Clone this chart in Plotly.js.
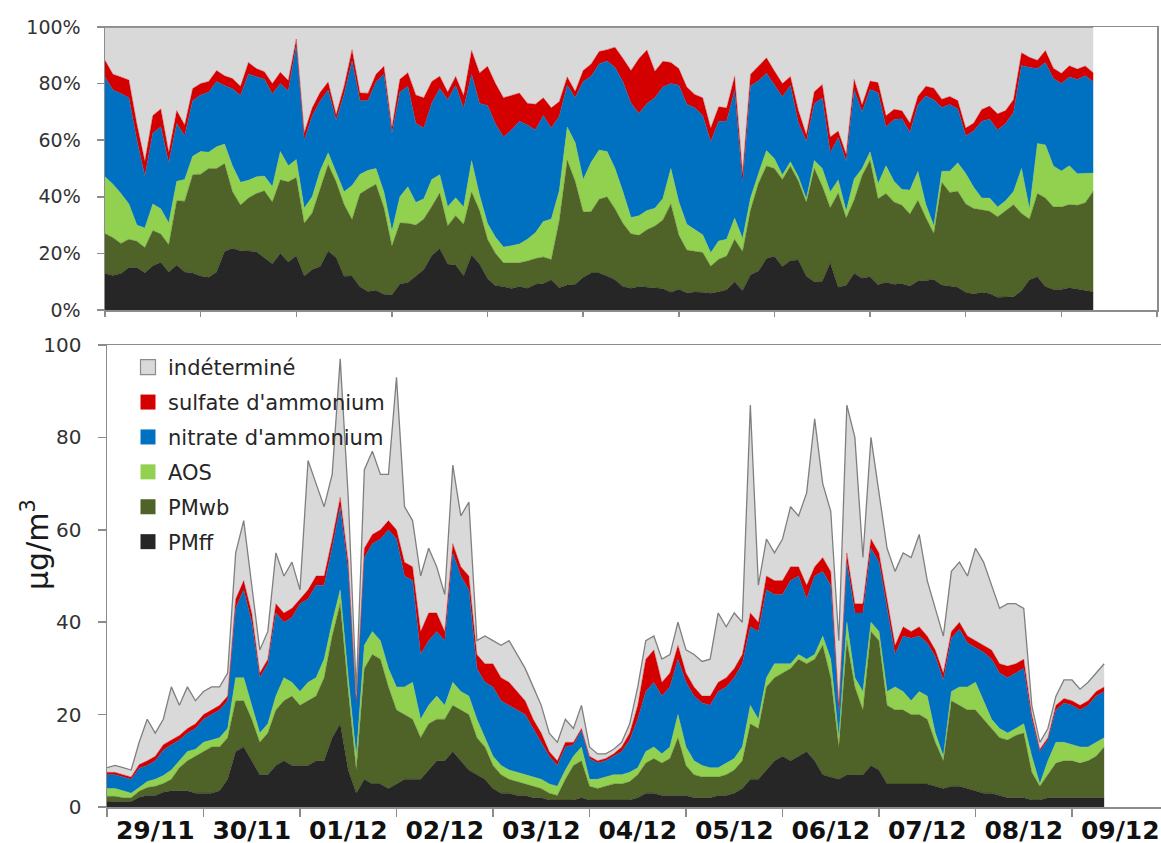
<!DOCTYPE html>
<html>
<head>
<meta charset="utf-8">
<script src="https://cdn.plot.ly/plotly-3.0.1.min.js"></script>
<style>
html, body { margin: 0; padding: 0; background: #ffffff; }
#chart { width: 1161px; height: 843px; }
</style>
</head>
<body>
<div id="chart"></div>
<script>
// Hours since 29/11 00:00 (2-hourly readings)
const hours = [0,2,4,6,8,10,12,14,16,18,20,22,24,26,28,30,32,34,36,38,40,42,44,46,48,50,52,54,56,58,60,62,64,66,68,70,72,74,76,78,80,82,84,86,88,90,92,94,96,98,100,102,104,106,108,110,112,114,116,118,120,122,124,126,128,130,132,134,136,138,140,142,144,146,148,150,152,154,156,158,160,162,164,166,168,170,172,174,176,178,180,182,184,186,188,190,192,194,196,198,200,202,204,206,208,210,212,214,216,218,220,222,224,226,228,230,232,234,236,238,240,242,244,246,248];

// Components in µg/m3
const PMff = [1.1,1.1,1.1,1.2, 2.1,2.5,2.5,3.2,3.5,3.5,3.5,3, 3,3,3.5,6,12,13,10,7,7,9,10,9, 9,9,10,10,15,18,8,3,6,5,5,4, 5,6,6,6,8,10,10,12,10,8,7,6, 4,3,3,2.5,2.5,2,2,1.5,1.5,1.5,1.5,2, 1.5,1.5,1.5,1.5,1.5,1.5,2,3,3,2.5,2.5,2.5, 2.5,2,2,2,2.5,2.5,3,4,6,6,8,10, 11,10,11,12,10,7,6.5,6,7,7,7,9, 8,5,5,5,5,5,5,4.5,4,4.5,4.5,4, 3.5,3,3,2.5,2,2,2,1.5,1.5,2,2,2, 2,2,2,2,2];
const PMwb = [1.2,1.2,0.9,0.8, 1.3,1.7,2,1.9,2.5,5,6.5,8, 9,10,9.5,9,11,10,9,7,9,12,13,15, 13,14,14,18,22,26,17,5,24,28,27,22, 16,14,13,9,10,9,9,10,11,12,8,7, 5,4,3,3,2.5,2.5,2,1.5,1,4.5,7.5,8, 3,2.5,3,3.5,3.5,4,5,6.5,7.5,7,8,12.5, 6.5,5,4.5,4.5,4,4.5,5,6,12,11,18,18, 18,20,21,19,22,28,21.5,7,29,19,14,29, 28,17,16,16,15,15,14,9.5,6,18.5,17.5,17, 17.5,16,14,12.5,12.5,13.5,14,6,3,5,7.5,8, 8,7.5,8,9,11];
const AOS = [1.7,1.7,1.5,1, 0.8,1.3,1.5,1.7,2,1.5,2,1.5, 2,1.5,2,2,5,5,3,2,2,3,5,3, 3,4,4,4,3,3,3,3,5,5,4,4, 5,6,8,4,4,5,3,5,4,4,4,2, 2,2,2,2,2,2,2,2,2,2,2,3, 1.5,2,2,2,2,2,1.5,2.5,2.5,2,2.5,5, 4,3,2.5,2,2,2.5,2.5,3,4,2,2,3, 2,1,1,1,1,2,4,2,4,2,4,2, 2,3,5,4,3,5,5,2,1,2,4,5, 6,4,2,2,1.5,1.5,2,3.5,0.5,3,4.5,4, 3.5,3.5,3,3,2];
const nitrate = [3,3,3,3, 4.2,3.5,4,5.5,5.5,4.5,4,4.5, 5,5.5,6,6,15,19,18,12,13,18,12,14, 19,18,20,16,16,18,23,11,19,19,22,30, 32,24,22,14,14,14,14,28,25,23,11,12, 15,14,14,13.5,13,10.5,8,6,4.5,5,2.5,3.5, 4.5,3.5,3.5,4,5,7,10.5,13,14,12.5,13,12, 14,14,13.5,13.5,16.5,16.5,17.5,18,17,19,19,15, 15,18,17,13,17,14,16,5,13,14,17,16, 15,18,7,12,13.5,12,11.5,16.5,16.5,11.5,12.5,9.5, 7.5,10.5,13,12,12,12,12,8,7,4.5,7,8.5, 8.5,8,9,10,10];
const sulfate = [0.5,0.5,0.5,0.5, 0.8,1,1,1.2,1,1,1,1, 1,1,1,1,2,2,2,1,1,2,2,2, 1,2,2,2,2,2,2,1,2,2,2,2, 2,3,3,5,6,4,2,2,2,3,3,4, 5,5,5,4,3,2,2,1,1,1,0.5,0.5, 0.5,0.5,0.5,0.5,1,1.5,3,7,7,3,3,3, 2,2,1.5,2,2,2,2,2,3,2,3,3, 3,3,2,3,2,3,3,2,2,2,2,2, 2,2,2,2,1.5,2,1.5,1.5,1.5,1.5,1.5,1.5, 1.5,1.5,2,2,2.5,2,2,1,0.5,0.5,1,1, 1,1,1,1,1];
const indetermine = [1,1.5,1.5,1.5, 4.8,9,5,5.5,11.5,6.5,9,5, 5,5,4,5,10,13,6,5,6,11,8,10, 2,28,20,15,14,30,14,2,17,18,12,10, 33,12,10,12,14,10,8,17,11,16,3,6, 5,7,9,8,7,7,6,4,4,5,3,5, 2,1.5,1,1,1,2,4,4,3,5,4,5, 5,7,7.5,8,15,11,12,7,45,8,8,6, 9,13,11,20,32,16,13,14,32,36,10,22, 13,11,16,16,16,20,12,9,8,13,13,13, 20,18,14,12,13.5,13,11,2,1.5,2,2,4, 4.5,3.5,4,4,5];

const seriesNames = ['PMff', 'PMwb', 'AOS', "nitrate d'ammonium", "sulfate d'ammonium", 'indéterminé'];
const seriesData = [PMff, PMwb, AOS, nitrate, sulfate, indetermine];
const seriesColors = ['#262626', '#4f6228', '#92d050', '#0070c0', '#d40000', '#d9d9d9'];

const startDay = Date.UTC(2013, 10, 29);
function stamp(h) {
  const d = new Date(startDay + h * 3600000);
  return d.toISOString().slice(0, 16).replace('T', ' ');
}
const times = hours.map(stamp);

const FONT = 'DejaVu Sans';
const AXIS = '#8c8c8c';
const traces = [];

seriesNames.forEach((name, i) => {
  const isGray = (i === seriesNames.length - 1);
  const base = {
    type: 'scatter', mode: 'lines', x: times, y: seriesData[i], name: name,
    fillcolor: seriesColors[i],
    line: isGray ? { color: '#7f7f7f', width: 1.3 } : { color: seriesColors[i], width: 0.4 },
    showlegend: false, hoverinfo: 'skip'
  };
  const top = Object.assign({}, base, { xaxis: 'x', yaxis: 'y', stackgroup: 'pct' });
  if (i === 0) top.groupnorm = 'percent';
  traces.push(top);
  traces.push(Object.assign({}, base, { xaxis: 'x2', yaxis: 'y2', stackgroup: 'abs' }));
});

// Legend entries (top to bottom)
for (let i = seriesNames.length - 1; i >= 0; i--) {
  const isGray = (i === seriesNames.length - 1);
  traces.push({
    type: 'scatter', mode: 'markers', x: [null], y: [null], xaxis: 'x2', yaxis: 'y2',
    name: seriesNames[i], legendgroup: 'g' + i, showlegend: true,
    marker: { symbol: 'square', size: 15, color: seriesColors[i],
              line: { width: isGray ? 1.2 : 0, color: isGray ? '#8c8c8c' : seriesColors[i] } },
    hoverinfo: 'skip'
  });
}

const W = 1161, H = 843;
const px = v => v / W;
const py = v => (H - v) / H;

const pctTicks = [0, 20, 40, 60, 80, 100];

const layout = {
  width: W, height: H,
  margin: { l: 0, r: 0, t: 0, b: 0 },
  paper_bgcolor: '#ffffff', plot_bgcolor: '#ffffff',
  font: { family: FONT, color: '#333333' },
  showlegend: true,
  legend: {
    x: px(128), y: py(347), xanchor: 'left', yanchor: 'top',
    bgcolor: 'rgba(0,0,0,0)', borderwidth: 0,
    font: { family: FONT, size: 21, color: '#262626' },
    tracegroupgap: 4.6, traceorder: 'grouped'
  },
  xaxis: {
    domain: [px(105), px(1157)], anchor: 'y', type: 'date',
    range: ['2013-11-29 00:00', '2013-12-10 00:00'],
    tick0: '2013-11-29', dtick: 86400000,
    ticks: 'outside', ticklen: 5, tickwidth: 1.5, tickcolor: AXIS,
    showticklabels: false, showline: true, linecolor: AXIS, linewidth: 1.5, mirror: true,
    showgrid: false, zeroline: false
  },
  yaxis: {
    domain: [py(310), py(27)], anchor: 'x', range: [0, 100],
    tickmode: 'array', tickvals: pctTicks, ticktext: pctTicks.map(v => v + '%'),
    ticks: 'outside', ticklen: 7, tickwidth: 1.5, tickcolor: AXIS,
    showline: true, linecolor: AXIS, linewidth: 1.5, mirror: true,
    showgrid: false, zeroline: false, ticklabelstandoff: 12,
    tickfont: { family: FONT, size: 19, color: '#333333' }
  },
  xaxis2: {
    domain: [px(107), 1], anchor: 'y2', type: 'date',
    range: ['2013-11-29 00:00', '2013-12-09 22:08'],
    tick0: '2013-11-29', dtick: 86400000, tickformat: '%d/%m', ticklabelmode: 'period',
    ticks: 'outside', ticklen: 8, tickwidth: 1.5, tickcolor: AXIS,
    showline: true, linecolor: AXIS, linewidth: 1.5, mirror: true,
    showgrid: false, zeroline: false, ticklabelstandoff: -8,
    tickfont: { family: FONT, size: 25, color: '#111111', weight: 'bold' }
  },
  yaxis2: {
    domain: [py(807), py(345)], anchor: 'x2', range: [0, 100],
    tickvals: [0, 20, 40, 60, 80, 100],
    ticks: 'outside', ticklen: 8, tickwidth: 1.5, tickcolor: AXIS,
    showline: true, linecolor: AXIS, linewidth: 1.5,
    showgrid: false, zeroline: false, ticklabelstandoff: 12,
    tickfont: { family: FONT, size: 20, color: '#333333' }
  },
  annotations: [{
    text: 'µg/m<sup>3</sup>', xref: 'paper', yref: 'paper',
    x: px(35), y: py(545), xanchor: 'center', yanchor: 'middle',
    textangle: -90, showarrow: false,
    font: { family: FONT, size: 30, color: '#1a1a1a' }
  }]
};

Plotly.newPlot('chart', traces, layout, { displayModeBar: false, staticPlot: true });
</script>
</body>
</html>
